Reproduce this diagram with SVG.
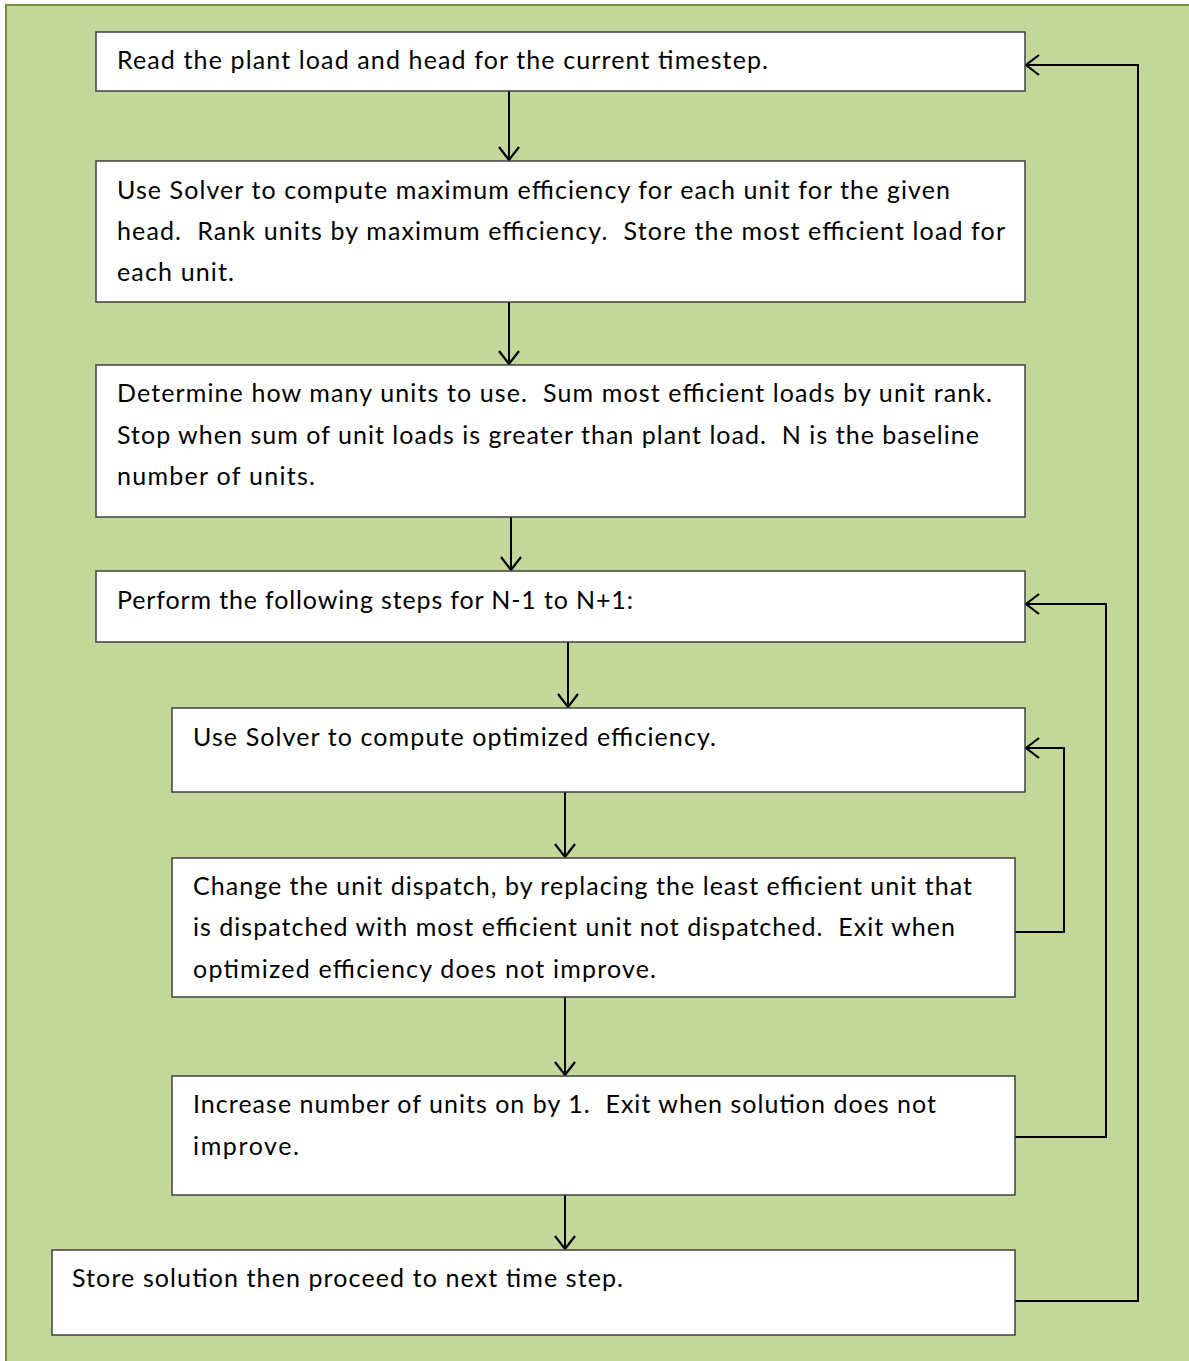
<svg xmlns="http://www.w3.org/2000/svg" width="1189" height="1361" viewBox="0 0 1189 1361">
<defs>
<style>
.box{fill:#ffffff;stroke:#404040;stroke-width:1.5}
.t{font-family:Lato,"Open Sans",sans-serif;font-size:25px;fill:#000;white-space:pre}
.c{fill:none;stroke:#000;stroke-width:2}
</style>
<marker id="ah" markerWidth="20" markerHeight="24" refX="15" refY="12" orient="auto" markerUnits="userSpaceOnUse">
<path d="M2,2 L15,12 L2,22" fill="none" stroke="#000" stroke-width="2.2"/>
</marker>
</defs>
<rect x="6" y="5" width="1200" height="1370" fill="#C4D79B" stroke="#76923C" stroke-width="2"/>
<g id="connectors">
<line class="c" x1="509" y1="91" x2="509" y2="160" marker-end="url(#ah)"/>
<line class="c" x1="509" y1="302" x2="509" y2="364" marker-end="url(#ah)"/>
<line class="c" x1="511" y1="517" x2="511" y2="570" marker-end="url(#ah)"/>
<line class="c" x1="568" y1="642" x2="568" y2="707" marker-end="url(#ah)"/>
<line class="c" x1="565" y1="792" x2="565" y2="857" marker-end="url(#ah)"/>
<line class="c" x1="565" y1="997" x2="565" y2="1075" marker-end="url(#ah)"/>
<line class="c" x1="565" y1="1195" x2="565" y2="1249" marker-end="url(#ah)"/>
<polyline class="c" points="1015,1301 1138,1301 1138,65 1026,65" marker-end="url(#ah)"/>
<polyline class="c" points="1015,1137 1106,1137 1106,604 1026,604" marker-end="url(#ah)"/>
<polyline class="c" points="1015,932 1064,932 1064,748 1026,748" marker-end="url(#ah)"/>
</g>
<g id="n1"><rect class="box" x="96" y="32" width="929" height="59"/>
<text class="t" x="117" y="69" textLength="651">Read the plant load and head for the current timestep.</text></g>
<g id="n2"><rect class="box" x="96" y="161" width="929" height="141"/>
<text class="t" x="117" y="199" textLength="833">Use Solver to compute maximum efficiency for each unit for the given</text>
<text class="t" x="117" y="240" textLength="888">head.  Rank units by maximum efficiency.  Store the most efficient load for</text>
<text class="t" x="117" y="281" textLength="117">each unit.</text></g>
<g id="n3"><rect class="box" x="96" y="365" width="929" height="152"/>
<text class="t" x="117" y="402" textLength="875">Determine how many units to use.  Sum most efficient loads by unit rank.</text>
<text class="t" x="117" y="444" textLength="862">Stop when sum of unit loads is greater than plant load.  N is the baseline</text>
<text class="t" x="117" y="485" textLength="198">number of units.</text></g>
<g id="n4"><rect class="box" x="96" y="571" width="929" height="71"/>
<text class="t" x="117" y="609" textLength="516">Perform the following steps for N-1 to N+1:</text></g>
<g id="n5"><rect class="box" x="172" y="708" width="853" height="84"/>
<text class="t" x="193" y="746" textLength="523">Use Solver to compute optimized efficiency.</text></g>
<g id="n6"><rect class="box" x="172" y="858" width="843" height="139"/>
<text class="t" x="193" y="895" textLength="779">Change the unit dispatch, by replacing the least efficient unit that</text>
<text class="t" x="193" y="936" textLength="762">is dispatched with most efficient unit not dispatched.  Exit when</text>
<text class="t" x="193" y="978" textLength="463">optimized efficiency does not improve.</text></g>
<g id="n7"><rect class="box" x="172" y="1076" width="843" height="119"/>
<text class="t" x="193" y="1113" textLength="743">Increase number of units on by 1.  Exit when solution does not</text>
<text class="t" x="193" y="1155" textLength="106">improve.</text></g>
<g id="n8"><rect class="box" x="52" y="1250" width="963" height="85"/>
<text class="t" x="72" y="1287" textLength="551">Store solution then proceed to next time step.</text></g>
</svg>
